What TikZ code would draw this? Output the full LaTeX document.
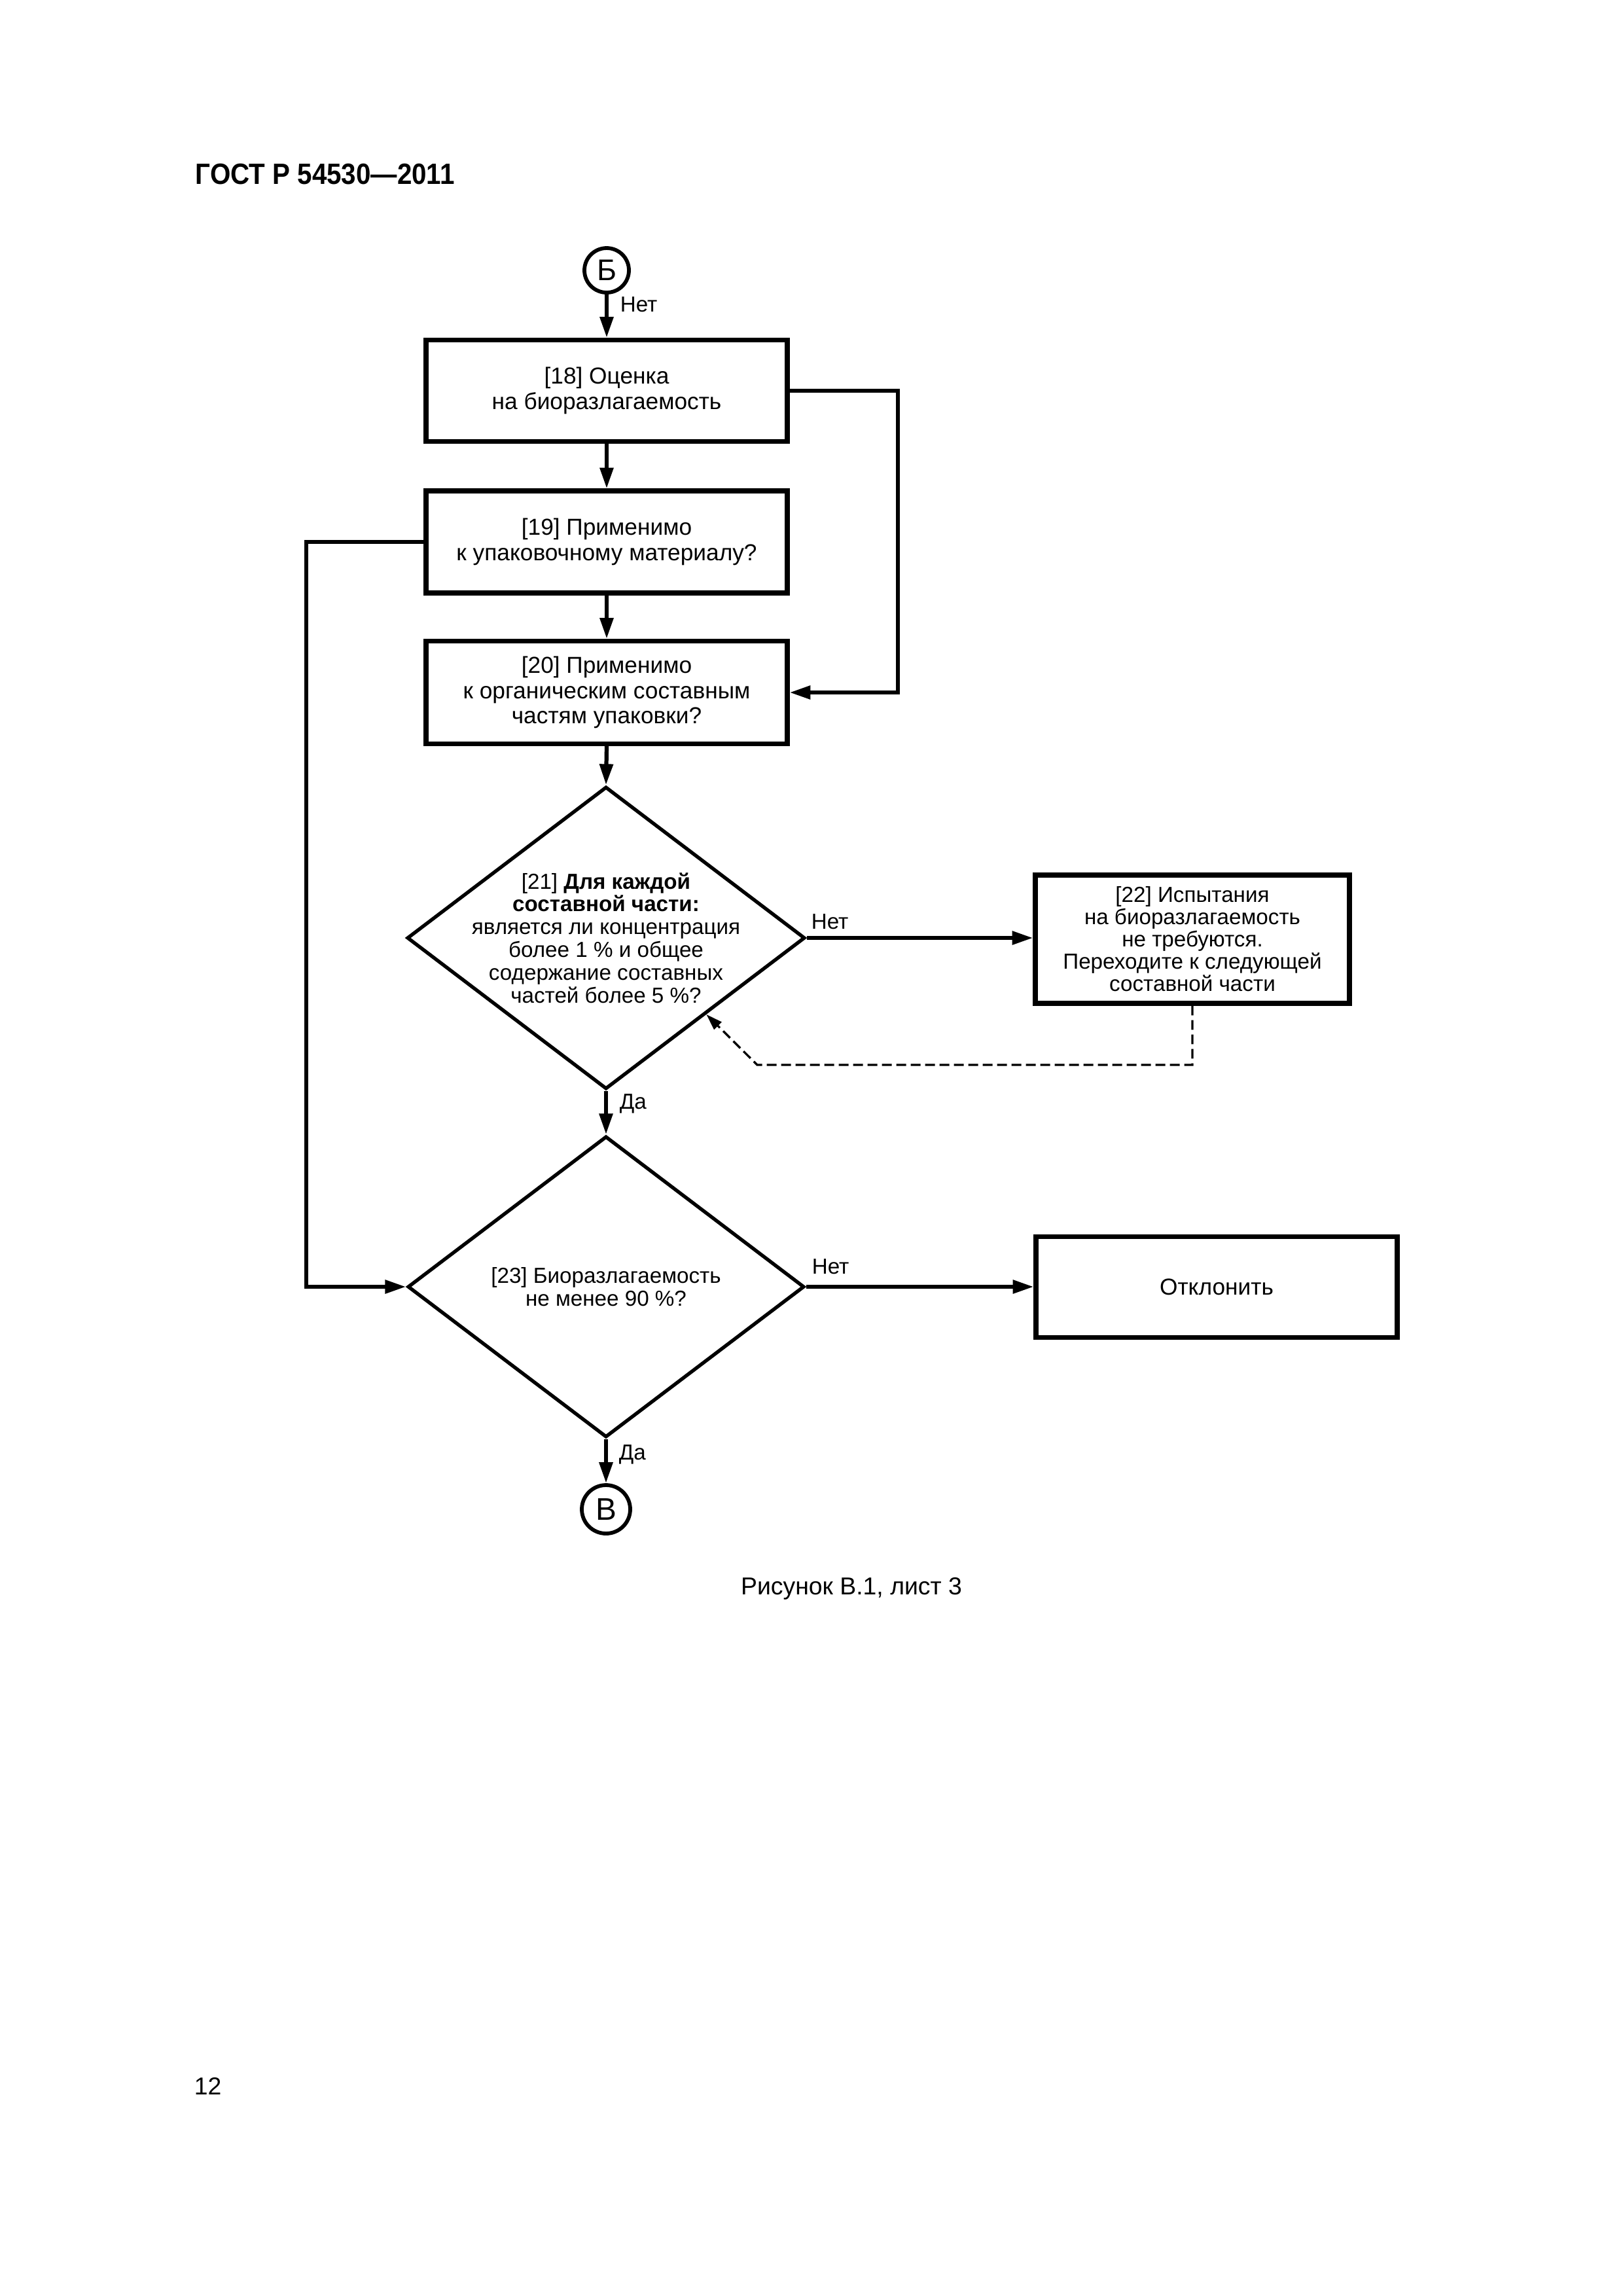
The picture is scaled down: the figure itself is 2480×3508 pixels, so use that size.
\documentclass[tikz,border=0pt]{standalone}
\usepackage{fontspec}
\setmainfont{Liberation Sans}
\usetikzlibrary{shapes.geometric,arrows.meta}
\newcommand\pxu{0.24093pt}
\begin{document}
\begin{tikzpicture}[x=0.24093pt,y=-0.24093pt,
  box/.style={draw,line width=1.7pt,inner sep=0pt,align=center,
    font=\fontsize{8.5}{9.3}\selectfont},
  dia/.style={draw,diamond,line width=1.3pt,inner sep=0pt,
    minimum width=606*\pxu,minimum height=460*\pxu},
  dtext/.style={align=center,inner sep=0pt,font=\fontsize{8}{8.4}\selectfont},
  conn/.style={draw,line width=1.4pt,circle,inner sep=0pt},
  arr/.style={line width=1.5pt,-{Triangle[length=7.7pt,width=4.8pt]}},
  dasharr/.style={line width=0.8pt,dash pattern=on 3.6pt off 1.7pt,
    -{Triangle[length=6pt,width=3.8pt]}},
  lbl/.style={anchor=base west,inner sep=0pt,font=\fontsize{8}{9}\selectfont}]
\useasboundingbox (0,0) rectangle (2480,3508);

% header, caption, page number
\node[anchor=base west,inner sep=0pt,font=\fontsize{10.8}{13}\selectfont\bfseries] (hdr) at (298,281) {\scalebox{0.9}[1]{ГОСТ Р 54530—2011}};
\node[anchor=base,inner sep=0pt,font=\fontsize{9}{11}\selectfont] (cap) at (1301,2436) {Рисунок В.1, лист 3};
\node[anchor=base west,inner sep=0pt,font=\fontsize{9}{11}\selectfont] (pg) at (296,3200) {12};

% connectors (circles)
\node[conn,minimum size=68*\pxu,font=\fontsize{11}{13}\selectfont] (cB) at (927,413) {Б};
\node[conn,minimum size=74*\pxu,font=\fontsize{11.5}{13}\selectfont] (cV) at (926,2306) {В};

% boxes
\node[box,minimum width=552*\pxu,minimum height=155*\pxu] (b18) at (927,597) {[18] Оценка\\на биоразлагаемость};
\node[box,minimum width=552*\pxu,minimum height=156*\pxu] (b19) at (927,828) {[19] Применимо\\к упаковочному материалу?};
\node[box,minimum width=552*\pxu,minimum height=157*\pxu] (b20) at (927,1058) {[20] Применимо\\к органическим составным\\частям упаковки?};
\node[box,minimum width=480*\pxu,minimum height=196*\pxu,font=\fontsize{8}{8.2}\selectfont] (b22) at (1822,1435) {[22] Испытания\\на биоразлагаемость\\не требуются.\\Переходите к следующей\\составной части};
\node[box,minimum width=552*\pxu,minimum height=154*\pxu] (brej) at (1859,1966) {Отклонить};

% diamonds
\node[dia,minimum width=608*\pxu,minimum height=462*\pxu] (d21) at (926,1433) {};
\node[dtext] (t21) at (d21.center) {[21] \textbf{Для каждой}\\\textbf{составной части:}\\является ли концентрация\\более 1~\% и общее\\содержание составных\\частей более 5~\%?};
\node[dia] (d23) at (926,1966) {};
\node[dtext] (t23) at (d23.center) {[23] Биоразлагаемость\\не менее 90~\%?};

% helper coordinates
\coordinate (rl) at (1372,597);
\coordinate (ll) at (468,828);
\coordinate (dc) at (1157,1627);

% flow
\draw[arr] (cB.south) -- (cB.south |- b18.north);
\draw[arr] (b18.south) -- (b19.north);
\draw[arr] (b19.south) -- (b20.north);
\draw[arr] (b20.south) -- (d21.north);
\draw[arr] (b18.east) -- (rl) |- (b20.east);
\draw[arr] (b19.west) -- (ll) |- (d23.west);
\draw[arr] (d21.east) -- (d21.east -| b22.west);
\draw[dasharr] (b22.south) -- (b22.south |- dc) -- (dc) -- (d21.south east);
\draw[arr] (d21.south) -- (d23.north);
\draw[arr] (d23.east) -- (d23.east -| brej.west);
\draw[arr] (d23.south) -- (cV.north);

% labels
\node[lbl] (l1) at (947,476) {Нет};
\node[lbl] (l2) at (1239,1419) {Нет};
\node[lbl] (l3) at (946,1694) {Да};
\node[lbl] (l4) at (1240,1946) {Нет};
\node[lbl] (l5) at (945,2230) {Да};
\end{tikzpicture}
\end{document}
